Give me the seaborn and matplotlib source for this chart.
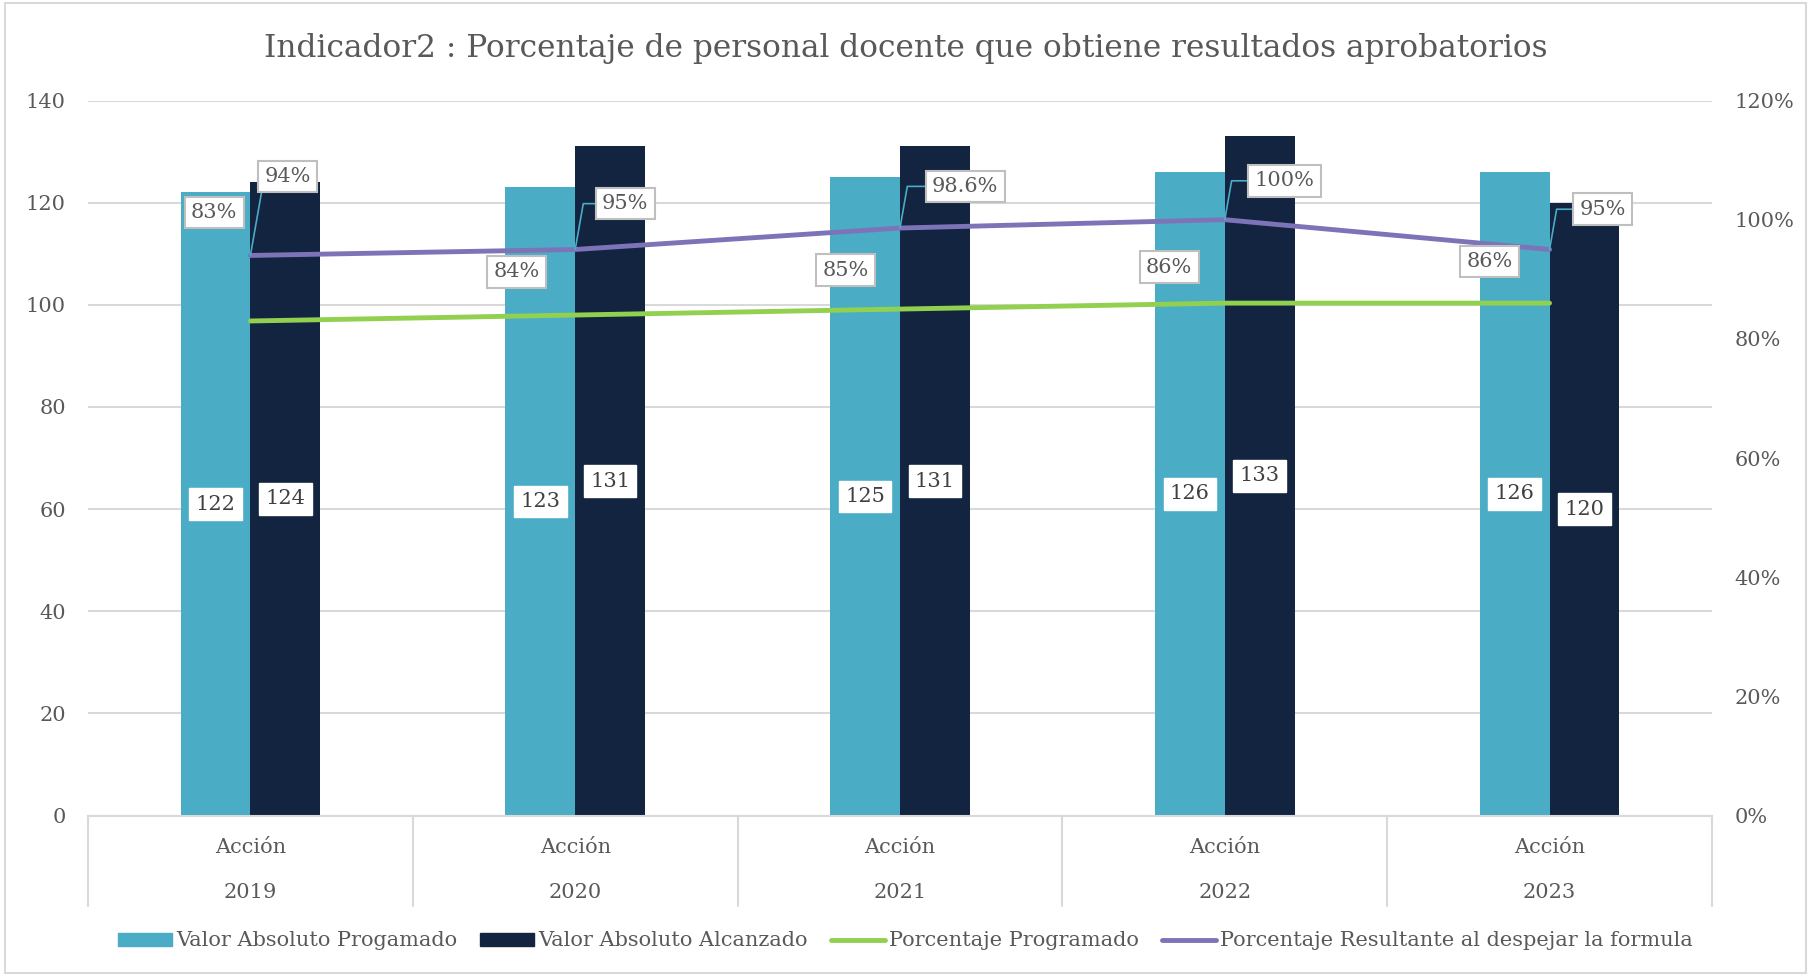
import pandas as pd
import seaborn as sns
import matplotlib.pyplot as plt
from matplotlib.patches import Rectangle
from matplotlib.transforms import blended_transform_factory

# Data
years = ["2019", "2020", "2021", "2022", "2023"]
programado = [122, 123, 125, 126, 126]
alcanzado = [124, 131, 131, 133, 120]
pct_programado = [83, 84, 85, 86, 86]
pct_resultante = [94, 95, 98.6, 100, 95]
pct_res_labels = ["94%", "95%", "98.6%", "100%", "95%"]

serie_prog = "Valor Absoluto Progamado"
serie_alc = "Valor Absoluto Alcanzado"
serie_pp = "Porcentaje Programado"
serie_pr = "Porcentaje Resultante al despejar la formula"

# label offsets (points) for the percentage labels
off_pp = [(-26, 78), (-42, 31), (-39, 28), (-40, 26), (-43, 30)]
off_pr = [(27, 57), (36, 33), (47, 30), (43, 28), (38, 29)]

c_prog = "#4BACC6"
c_alc = "#12243F"
c_pp = "#92D050"
c_pr = "#7D74B8"
txt = "#595959"
grid = "#D9D9D9"

df = pd.DataFrame({
    "year": years * 2,
    "valor": programado + alcanzado,
    "serie": [serie_prog] * 5 + [serie_alc] * 5,
})

sns.set_style("white")
plt.rcParams["font.family"] = ["DejaVu Serif"]
plt.rcParams["text.color"] = txt

fs = 15

fig = plt.figure(figsize=(18.11, 9.76), dpi=100)
ax = fig.add_axes([0.0486, 0.1644, 0.8967, 0.7326])

sns.barplot(data=df, x="year", y="valor", hue="serie", palette=[c_prog, c_alc],
            width=0.43, ax=ax, legend=False, saturation=1, linewidth=0, edgecolor="none")
ax.set_ylim(0, 140)
ax.set_xlim(-0.5, 4.5)
ax.set_yticks(range(0, 141, 20))
ax.yaxis.grid(True, color=grid, lw=1.5)
ax.set_axisbelow(True)
for s in ["top", "right", "left"]:
    ax.spines[s].set_visible(False)
ax.spines["bottom"].set_color(grid)
ax.spines["bottom"].set_linewidth(1.5)
ax.tick_params(axis="y", length=0, pad=16, labelsize=fs, labelcolor=txt)
ax.set_xticks(range(5))
ax.set_xticklabels(["Acción\n" + y for y in years], linespacing=2.75)
ax.tick_params(axis="x", length=0, pad=16, labelsize=fs, labelcolor=txt)
ax.set_xlabel("")
ax.set_ylabel("")

# category separators below the axis
tr = blended_transform_factory(ax.transData, ax.transAxes)
for xs in [-0.5, 0.5, 1.5, 2.5, 3.5, 4.5]:
    ax.plot([xs, xs], [0, -0.126], transform=tr, color=grid, lw=1.5, clip_on=False)

# value labels in the middle of each bar
for cont in ax.containers:
    for bar in cont:
        h = bar.get_height()
        ax.text(bar.get_x() + bar.get_width() / 2, h / 2, f"{h:.0f}", ha="center", va="center",
                fontsize=fs, color="#404040",
                bbox=dict(boxstyle="square,pad=0.3", fc="white", ec="white"))

# percentage lines on secondary axis
ax2 = ax.twinx()
xpos = list(range(5))
sns.lineplot(x=xpos, y=pct_programado, ax=ax2, color=c_pp, lw=3.5, solid_capstyle="round")
sns.lineplot(x=xpos, y=pct_resultante, ax=ax2, color=c_pr, lw=3.5, solid_capstyle="round")
ax2.set_ylim(0, 120)
ax2.set_yticks(range(0, 121, 20))
ax2.set_yticklabels([f"{v}%" for v in range(0, 121, 20)])
ax2.tick_params(axis="y", length=0, pad=16, labelsize=fs, labelcolor=txt)
for s in ax2.spines.values():
    s.set_visible(False)
ax2.grid(False)

box = dict(boxstyle="square,pad=0.3", fc="white", ec="#BFBFBF", lw=1.5)
for i in range(5):
    ax2.annotate(f"{pct_programado[i]}%", (xpos[i], pct_programado[i]), xytext=off_pp[i],
                 textcoords="offset points", ha="center", va="center", fontsize=fs,
                 color=txt, bbox=box)
    ax2.annotate(pct_res_labels[i], (xpos[i], pct_resultante[i]), xytext=off_pr[i],
                 textcoords="offset points", ha="center", va="center", fontsize=fs,
                 color=txt, bbox=box,
                 arrowprops=dict(arrowstyle="-", color=c_prog, lw=1.2,
                                 shrinkA=0, shrinkB=0,
                                 connectionstyle="angle,angleA=0,angleB=80,rad=0"))

# title
fig.text(0.5, 1 - 48.5 / 976, "Indicador2 : Porcentaje de personal docente que obtiene resultados aprobatorios",
         ha="center", va="center", fontsize=22.5, color=txt)

# legend
handles = [
    Rectangle((0, 0), 1, 1, color=c_prog),
    Rectangle((0, 0), 1, 1, color=c_alc),
    plt.Line2D([0], [0], color=c_pp, lw=3.5),
    plt.Line2D([0], [0], color=c_pr, lw=3.5),
]
fig.legend(handles, [serie_prog, serie_alc, serie_pp, serie_pr], loc="center",
           bbox_to_anchor=(0.5, 1 - 941 / 976), ncol=4, frameon=False, fontsize=fs,
           handlelength=2.6, handleheight=0.6, handletextpad=0.2, columnspacing=1.1,
           labelcolor=txt)

# outer border
fig.patches.append(Rectangle((0.003, 0.003), 0.994, 0.994, transform=fig.transFigure,
                             fill=False, ec=grid, lw=1.5))

fig.savefig("out.png", dpi=100)
